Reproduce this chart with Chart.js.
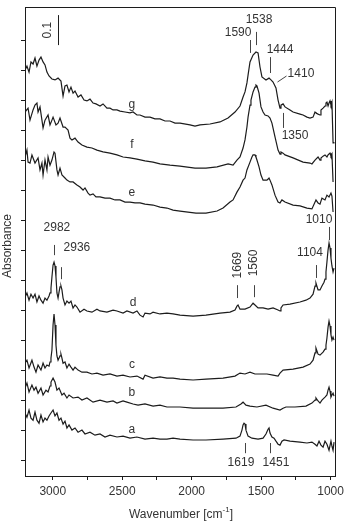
<!DOCTYPE html>
<html>
<head>
<meta charset="utf-8">
<script src="https://cdn.jsdelivr.net/npm/chart.js@4.4.1/dist/chart.umd.min.js"></script>
<style>
  html, body { margin:0; background:#fff; }
  canvas { display:block; }
</style>
</head>
<body>
<canvas id="ir" width="346" height="524"></canvas>
<script>
// ── IR spectra a–g, offset stack (wavenumber cm-1, absorbance) ────────────
const traceG = [[3200,1.300],[3186,1.313],[3171,1.293],[3157,1.327],[3142,1.320],[3128,1.340],[3114,1.313],[3099,1.333],[3085,1.343],[3070,1.327],[3056,1.317],[3042,1.293],[3027,1.280],[3006,1.270],[2984,1.267],[2962,1.273],[2941,1.263],[2926,1.213],[2912,1.247],[2898,1.250],[2883,1.227],[2869,1.243],[2854,1.223],[2840,1.230],[2818,1.210],[2797,1.217],[2775,1.200],[2754,1.197],[2732,1.203],[2710,1.190],[2689,1.187],[2660,1.180],[2638,1.187],[2610,1.173],[2588,1.173],[2566,1.167],[2538,1.167],[2516,1.163],[2480,1.160],[2444,1.157],[2422,1.160],[2394,1.150],[2372,1.150],[2336,1.143],[2300,1.143],[2264,1.137],[2228,1.137],[2192,1.130],[2156,1.130],[2120,1.123],[2084,1.123],[2012,1.117],[1976,1.113],[1940,1.117],[1868,1.120],[1796,1.127],[1738,1.140],[1688,1.160],[1652,1.180],[1630,1.210],[1616,1.227],[1602,1.257],[1594,1.283],[1580,1.327],[1558,1.350],[1537,1.360],[1522,1.357],[1508,1.310],[1494,1.277],[1465,1.267],[1443,1.273],[1429,1.267],[1414,1.260],[1393,1.240],[1378,1.200],[1364,1.173],[1357,1.183],[1342,1.187],[1328,1.177],[1292,1.167],[1270,1.160],[1220,1.153],[1198,1.150],[1170,1.143],[1148,1.140],[1126,1.143],[1112,1.160],[1105,1.157],[1090,1.153],[1076,1.150],[1069,1.167],[1054,1.173],[1040,1.180],[1033,1.190],[1026,1.193],[1018,1.180],[1011,1.190],[1004,1.197],[997,1.183],[990,1.193],[982,1.057],[976,1.060]];

const traceF = [[3200,1.160],[3178,1.173],[3164,1.133],[3142,1.167],[3128,1.183],[3114,1.190],[3106,1.160],[3092,1.177],[3078,1.133],[3070,1.107],[3056,1.133],[3034,1.150],[3020,1.117],[3006,1.133],[2998,1.143],[2977,1.117],[2962,1.123],[2948,1.140],[2926,1.110],[2912,1.110],[2890,1.100],[2876,1.073],[2862,1.067],[2840,1.073],[2818,1.060],[2790,1.050],[2754,1.043],[2718,1.040],[2682,1.033],[2638,1.027],[2588,1.023],[2538,1.017],[2494,1.010],[2444,1.007],[2394,1.003],[2336,0.997],[2278,0.993],[2228,0.987],[2156,0.983],[2084,0.980],[1976,0.973],[1897,0.973],[1817,0.977],[1738,0.987],[1702,0.983],[1674,1.000],[1652,1.010],[1630,1.040],[1616,1.067],[1602,1.110],[1594,1.143],[1580,1.183],[1573,1.200],[1558,1.227],[1544,1.243],[1537,1.250],[1530,1.247],[1515,1.223],[1501,1.177],[1486,1.160],[1472,1.150],[1450,1.147],[1436,1.140],[1422,1.123],[1400,1.077],[1378,1.033],[1364,1.020],[1357,1.027],[1342,1.023],[1328,1.017],[1270,1.007],[1198,0.993],[1148,0.990],[1134,0.987],[1112,1.000],[1090,1.010],[1076,1.000],[1069,1.007],[1054,1.013],[1040,1.017],[1026,1.010],[1018,1.017],[1011,1.020],[1004,1.023],[997,1.013],[990,1.020],[982,0.927]];

const traceE = [[3200,1.010],[3186,1.033],[3178,0.993],[3164,0.990],[3150,1.017],[3128,0.990],[3106,1.007],[3092,0.967],[3078,0.990],[3070,0.950],[3056,1.000],[3042,0.967],[3034,1.010],[3020,0.983],[3006,1.000],[2991,1.027],[2984,1.023],[2970,0.967],[2962,0.950],[2948,0.973],[2934,0.950],[2912,0.940],[2898,0.933],[2876,0.927],[2854,0.927],[2826,0.917],[2804,0.910],[2782,0.900],[2768,0.907],[2746,0.890],[2732,0.883],[2710,0.887],[2689,0.877],[2660,0.877],[2624,0.873],[2588,0.873],[2552,0.867],[2516,0.867],[2480,0.860],[2444,0.860],[2408,0.857],[2372,0.857],[2336,0.853],[2278,0.850],[2228,0.843],[2178,0.840],[2134,0.833],[2084,0.830],[1969,0.823],[1897,0.823],[1817,0.830],[1774,0.840],[1724,0.860],[1702,0.867],[1674,0.893],[1652,0.910],[1630,0.933],[1616,0.940],[1602,0.967],[1580,0.993],[1566,1.010],[1558,1.017],[1544,1.017],[1537,1.010],[1530,1.000],[1515,0.977],[1501,0.950],[1486,0.933],[1472,0.933],[1458,0.933],[1443,0.940],[1436,0.933],[1422,0.917],[1400,0.883],[1378,0.860],[1364,0.857],[1350,0.867],[1328,0.860],[1270,0.850],[1220,0.847],[1170,0.840],[1134,0.837],[1105,0.867],[1090,0.857],[1076,0.853],[1062,0.873],[1040,0.867],[1026,0.883],[1011,0.877],[997,0.890],[990,0.880],[982,0.827]];

const traceD = [[3200,0.543],[3186,0.557],[3171,0.533],[3157,0.553],[3142,0.540],[3128,0.553],[3114,0.527],[3099,0.547],[3085,0.533],[3070,0.523],[3056,0.540],[3042,0.533],[3027,0.547],[3020,0.557],[3013,0.573],[3006,0.610],[2998,0.650],[2991,0.660],[2984,0.647],[2977,0.610],[2970,0.557],[2962,0.540],[2955,0.560],[2948,0.577],[2941,0.580],[2934,0.567],[2926,0.540],[2912,0.517],[2898,0.530],[2883,0.523],[2869,0.530],[2854,0.507],[2840,0.517],[2826,0.510],[2804,0.493],[2775,0.503],[2754,0.497],[2718,0.493],[2682,0.503],[2660,0.497],[2610,0.493],[2566,0.500],[2538,0.497],[2494,0.490],[2466,0.497],[2422,0.490],[2394,0.497],[2372,0.483],[2350,0.477],[2336,0.490],[2300,0.487],[2278,0.493],[2228,0.487],[2178,0.490],[2134,0.487],[2084,0.483],[1990,0.480],[1897,0.483],[1796,0.490],[1724,0.493],[1688,0.500],[1674,0.513],[1666,0.517],[1652,0.503],[1616,0.503],[1580,0.510],[1558,0.523],[1544,0.517],[1522,0.507],[1486,0.507],[1450,0.503],[1414,0.507],[1378,0.500],[1364,0.497],[1357,0.507],[1342,0.517],[1292,0.520],[1220,0.527],[1177,0.533],[1148,0.540],[1126,0.553],[1112,0.580],[1105,0.590],[1090,0.567],[1076,0.567],[1062,0.580],[1047,0.593],[1040,0.603],[1033,0.627],[1026,0.660],[1018,0.700],[1011,0.723],[1004,0.707],[997,0.673],[990,0.647],[982,0.627],[975,0.640]];

const traceC = [[3200,0.323],[3186,0.333],[3171,0.307],[3150,0.333],[3135,0.310],[3121,0.293],[3106,0.317],[3085,0.300],[3070,0.323],[3056,0.307],[3042,0.317],[3027,0.313],[3020,0.327],[3013,0.340],[3006,0.367],[2998,0.450],[2991,0.487],[2984,0.450],[2977,0.383],[2970,0.347],[2962,0.333],[2948,0.347],[2941,0.353],[2934,0.340],[2926,0.323],[2912,0.327],[2898,0.307],[2883,0.320],[2869,0.310],[2854,0.300],[2840,0.310],[2818,0.300],[2790,0.293],[2754,0.293],[2718,0.287],[2682,0.290],[2638,0.283],[2588,0.287],[2538,0.280],[2494,0.283],[2444,0.277],[2394,0.280],[2350,0.270],[2336,0.283],[2278,0.273],[2228,0.277],[2178,0.273],[2134,0.273],[2084,0.270],[1990,0.267],[1897,0.270],[1774,0.273],[1688,0.280],[1652,0.290],[1616,0.287],[1580,0.293],[1544,0.287],[1458,0.287],[1414,0.283],[1378,0.280],[1364,0.290],[1342,0.300],[1270,0.303],[1198,0.310],[1148,0.320],[1126,0.333],[1112,0.357],[1105,0.373],[1090,0.353],[1076,0.350],[1054,0.360],[1040,0.370],[1033,0.383],[1026,0.407],[1018,0.443],[1011,0.463],[1004,0.447],[997,0.417],[990,0.400],[982,0.410],[975,0.400]];

const traceB = [[3200,0.240],[3186,0.257],[3171,0.227],[3150,0.250],[3135,0.233],[3121,0.243],[3106,0.223],[3085,0.240],[3070,0.217],[3049,0.233],[3034,0.227],[3020,0.247],[3013,0.260],[2998,0.273],[2984,0.260],[2970,0.233],[2955,0.240],[2934,0.217],[2919,0.223],[2898,0.207],[2883,0.217],[2854,0.207],[2818,0.210],[2790,0.200],[2754,0.207],[2710,0.193],[2660,0.200],[2610,0.193],[2566,0.197],[2538,0.190],[2494,0.197],[2466,0.193],[2422,0.187],[2386,0.183],[2336,0.187],[2278,0.180],[2228,0.183],[2178,0.177],[2134,0.177],[2084,0.177],[1990,0.173],[1897,0.173],[1774,0.173],[1681,0.177],[1645,0.187],[1630,0.193],[1609,0.183],[1580,0.180],[1530,0.177],[1465,0.183],[1414,0.173],[1364,0.167],[1342,0.173],[1321,0.177],[1256,0.177],[1177,0.180],[1134,0.190],[1112,0.200],[1105,0.207],[1090,0.197],[1076,0.190],[1062,0.200],[1040,0.210],[1026,0.217],[1018,0.233],[1011,0.243],[1004,0.230],[997,0.210],[990,0.217],[982,0.223],[975,0.213]];

const traceA = [[3200,0.157],[3186,0.143],[3171,0.167],[3157,0.140],[3142,0.133],[3128,0.160],[3114,0.133],[3099,0.123],[3085,0.150],[3070,0.127],[3056,0.140],[3042,0.133],[3027,0.147],[3013,0.157],[2998,0.167],[2984,0.147],[2970,0.157],[2955,0.133],[2941,0.140],[2926,0.120],[2912,0.130],[2898,0.107],[2883,0.117],[2862,0.100],[2840,0.107],[2818,0.093],[2790,0.100],[2768,0.087],[2732,0.093],[2696,0.083],[2660,0.087],[2624,0.077],[2588,0.083],[2538,0.077],[2494,0.080],[2444,0.073],[2394,0.077],[2336,0.070],[2278,0.073],[2228,0.070],[2178,0.070],[2134,0.073],[2084,0.070],[1990,0.067],[1897,0.067],[1774,0.070],[1681,0.073],[1652,0.080],[1638,0.100],[1630,0.117],[1623,0.123],[1616,0.120],[1609,0.100],[1594,0.080],[1566,0.073],[1522,0.070],[1486,0.073],[1465,0.087],[1450,0.103],[1443,0.107],[1436,0.090],[1422,0.077],[1407,0.073],[1393,0.063],[1378,0.053],[1364,0.050],[1350,0.063],[1335,0.067],[1292,0.063],[1220,0.060],[1170,0.057],[1134,0.060],[1112,0.053],[1098,0.047],[1083,0.063],[1069,0.050],[1054,0.043],[1040,0.063],[1026,0.053],[1011,0.033],[997,0.063],[990,0.047],[982,0.033],[975,0.060]];

const TRACES   = [traceA, traceB, traceC, traceD, traceE, traceF, traceG];
const NAMES    = ["a", "b", "c", "d", "e", "f", "g"];
const X_TICKS  = [1000, 1250, 1500, 1750, 2000, 2250, 2500, 2750, 3000];
const X_LABELS = [1000, 1500, 2000, 2500, 3000];
const Y_TICKS  = [0, 0.1, 0.2, 0.3, 0.4, 0.5, 0.6, 0.7, 0.8, 0.9, 1.0, 1.1, 1.2, 1.3, 1.4];

// ── peak labels (text anchored at wavenumber / absorbance) ────────────────
const PEAK_TEXT = [
  { t:"1538", x:1515, y:1.467 }, { t:"1590", x:1666, y:1.423 },
  { t:"1444", x:1364, y:1.367 }, { t:"1410", x:1213, y:1.287 },
  { t:"1350", x:1256, y:1.080 }, { t:"2982", x:2970, y:0.773 },
  { t:"2936", x:2826, y:0.707 }, { t:"1104", x:1148, y:0.690 },
  { t:"1010", x:1083, y:0.800 }, { t:"1619", x:1645, y:-0.010 },
  { t:"1451", x:1393, y:-0.007 },
  { t:"1669", x:1666, y:0.650, rot:true }, { t:"1560", x:1551, y:0.657, rot:true },
];
const PEAK_TICKS = [
  [1538,1.427,1538,1.383], [1580,1.400,1580,1.357], [1436,1.343,1436,1.290],
  [1386,1.260,1321,1.280], [1342,1.157,1342,1.107], [2991,0.717,2991,0.683],
  [2941,0.643,2941,0.603], [1674,0.583,1674,0.540], [1551,0.583,1551,0.543],
  [1105,0.650,1105,0.607], [1011,0.777,1011,0.733], [1616,0.057,1616,0.023],
  [1436,0.057,1436,0.023],
];
const NAME_POS = [[2430,0.100],[2430,0.223],[2430,0.317],[2422,0.523],[2430,0.890],[2430,1.050],[2430,1.183]];

const INK  = "#1c1c1c";
const TEXT = "#333";
const FONT = "12px 'Liberation Sans', Arial, sans-serif";

const decor = {
  id: "decor",
  afterDraw(chart) {
    const { ctx, chartArea: a, scales: { x, y } } = chart;
    const X = v => x.getPixelForValue(v), Y = v => y.getPixelForValue(v);
    ctx.save();
    ctx.strokeStyle = INK; ctx.lineWidth = 1;

    // top / right frame
    ctx.beginPath();
    ctx.moveTo(a.left, a.top + 0.5); ctx.lineTo(Math.round(a.right) + 0.5, a.top + 0.5);
    ctx.lineTo(Math.round(a.right) + 0.5, a.bottom);
    ctx.stroke();

    // 0.1 scale bar
    ctx.beginPath();
    ctx.moveTo(Math.round(X(2966)) + 0.5, Y(1.483)); ctx.lineTo(Math.round(X(2966)) + 0.5, Y(1.383));
    ctx.stroke();

    // peak marker ticks
    ctx.strokeStyle = "#444";
    PEAK_TICKS.forEach(([x1, y1, x2, y2]) => {
      ctx.beginPath();
      ctx.moveTo(Math.round(X(x1)) + 0.5, Y(y1)); ctx.lineTo(Math.round(X(x2)) + 0.5, Y(y2));
      ctx.stroke();
    });

    ctx.fillStyle = TEXT; ctx.font = FONT;
    ctx.textAlign = "center"; ctx.textBaseline = "middle";
    PEAK_TEXT.forEach(p => {
      if (p.rot) {
        ctx.save(); ctx.translate(X(p.x), Y(p.y)); ctx.rotate(-Math.PI / 2);
        ctx.fillText(p.t, 0, 0); ctx.restore();
      } else ctx.fillText(p.t, X(p.x), Y(p.y));
    });
    NAMES.forEach((n, i) => ctx.fillText(n, X(NAME_POS[i][0]), Y(NAME_POS[i][1])));

    ctx.save(); ctx.translate(X(3034), Y(1.433)); ctx.rotate(-Math.PI / 2);
    ctx.fillText("0.1", 0, 0); ctx.restore();

    // axis titles
    ctx.save(); ctx.translate(8, 246); ctx.rotate(-Math.PI / 2);
    ctx.fillText("Absorbance", 0, 0); ctx.restore();

    const main = "Wavenumber [cm", sup = "-1", tail = "]";
    ctx.font = FONT;
    const w1 = ctx.measureText(main).width, w3 = ctx.measureText(tail).width;
    ctx.font = "8px 'Liberation Sans', Arial, sans-serif";
    const w2 = ctx.measureText(sup).width;
    let sx = 181 - (w1 + w2 + w3) / 2;
    ctx.textAlign = "left"; ctx.textBaseline = "alphabetic";
    ctx.font = FONT; ctx.fillText(main, sx, 518);
    ctx.font = "8px 'Liberation Sans', Arial, sans-serif"; ctx.fillText(sup, sx + w1, 512);
    ctx.font = FONT; ctx.fillText(tail, sx + w1 + w2, 518);
    ctx.restore();
  },
};

new Chart(document.getElementById("ir"), {
  type: "line",
  data: {
    datasets: TRACES.map((t, i) => ({
      label: NAMES[i],
      data: t.map(([wn, ab]) => ({ x: wn, y: ab })),
      borderColor: INK, borderWidth: 1.2, pointRadius: 0, tension: 0, fill: false,
    })),
  },
  options: {
    responsive: false, animation: false, devicePixelRatio: 1,
    layout: { padding: { left: 0, top: 7, right: 11, bottom: 0 } },
    plugins: { legend: { display: false }, tooltip: { enabled: false } },
    scales: {
      x: {
        type: "linear", reverse: true, min: 968, max: 3200,
        afterBuildTicks: s => { s.ticks = X_TICKS.map(v => ({ value: v })); },
        afterFit: s => { s.height = 48; },
        grid: { drawOnChartArea: false, tickLength: 4, color: INK },
        border: { color: INK, width: 1 },
        ticks: { padding: 4, color: TEXT, font: { family: "'Liberation Sans', Arial, sans-serif", size: 12 },
                 maxRotation: 0, autoSkip: false,
                 callback: v => X_LABELS.includes(v) ? String(v) : "" },
      },
      y: {
        type: "linear", min: -0.053, max: 1.51,
        afterBuildTicks: s => { s.ticks = Y_TICKS.map(v => ({ value: v })); },
        afterFit: s => { s.width = 25; },
        grid: { drawOnChartArea: false, tickLength: 4, color: INK },
        border: { color: INK, width: 1 },
        ticks: { display: false },
      },
    },
  },
  plugins: [decor],
});
</script>
</body>
</html>
